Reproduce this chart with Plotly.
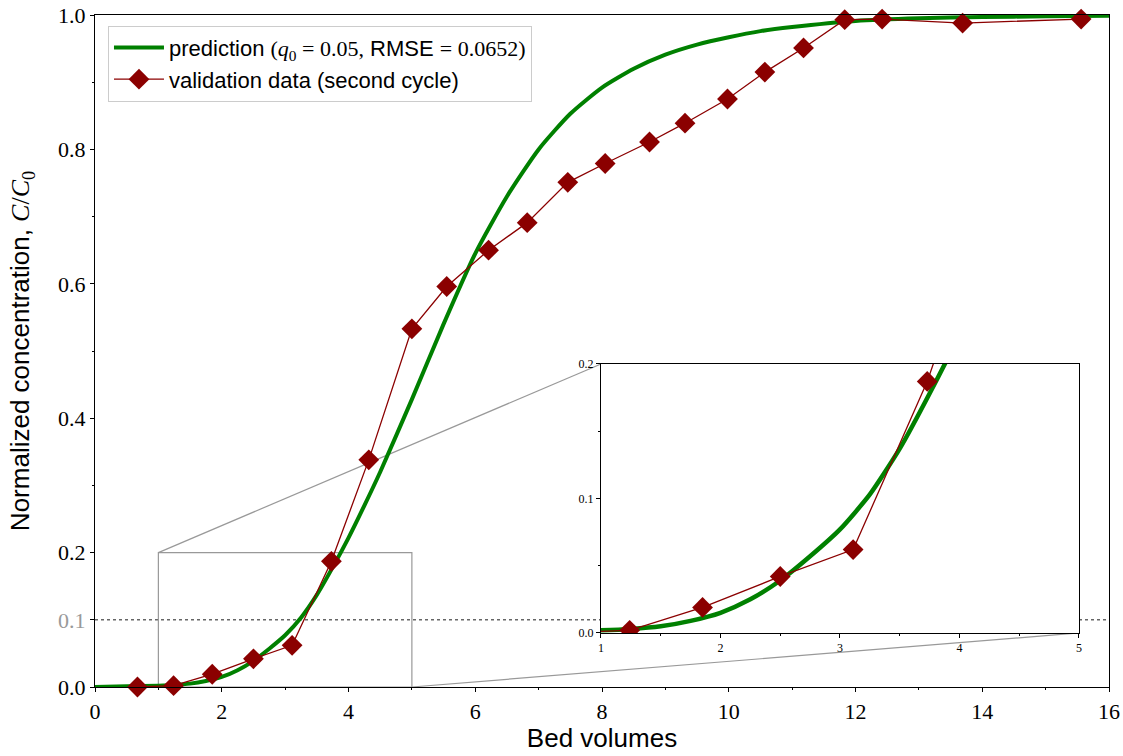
import plotly.graph_objects as go

# Validation data (second cycle): bed volumes vs. normalized concentration C/C0
bv_data = [0.67, 1.24, 1.85, 2.50, 3.11, 3.73, 4.32, 5.00, 5.55, 6.21, 6.82,
           7.46, 8.05, 8.75, 9.31, 9.98, 10.57, 11.18, 11.83, 12.42, 13.69, 15.56]
c_data = [0.000, 0.002, 0.019, 0.042, 0.062, 0.187, 0.338, 0.533, 0.596, 0.650, 0.691,
          0.751, 0.779, 0.811, 0.839, 0.875, 0.915, 0.951, 0.993, 0.994, 0.988, 0.994]

# Model prediction (q0 = 0.05)
bv_pred = [0.0, 0.5, 1.0, 1.25, 1.5, 1.75, 2.0, 2.25, 2.5, 2.75, 3.0, 3.25, 3.5, 3.75,
           4.0, 4.25, 4.5, 5.0, 5.5, 6.0, 6.5, 7.0, 7.5, 8.0, 8.5, 9.0, 9.5, 10.0,
           10.5, 11.0, 12.0, 13.0, 14.0, 15.0, 16.0]
c_pred = [0.000, 0.001, 0.002, 0.003, 0.005, 0.009, 0.015, 0.025, 0.039, 0.057, 0.077,
          0.103, 0.137, 0.178, 0.222, 0.270, 0.320, 0.428, 0.540, 0.645, 0.730, 0.800,
          0.853, 0.892, 0.920, 0.941, 0.956, 0.967, 0.976, 0.982, 0.991, 0.995, 0.997,
          0.998, 0.999]

# Axis ticks
x_ticks = [0, 2, 4, 6, 8, 10, 12, 14, 16]
y_ticks = [0.0, 0.1, 0.2, 0.4, 0.6, 0.8, 1.0]
y_ticktext = ["0.0", '<span style="color:#999999">0.1</span>', "0.2", "0.4", "0.6", "0.8", "1.0"]
inset_x_ticks = [1, 2, 3, 4, 5]
inset_y_ticks = [0.0, 0.1, 0.2]
inset_y_ticktext = ["0.0", "0.1", "0.2"]

# Ranges
x_range = [0, 16]
y_range = [0, 1]
zoom_x = [1, 5]
zoom_y = [0, 0.2]
threshold = 0.1

SERIF = "Liberation Serif"
SANS = "Liberation Sans"
GREEN = "#008000"
RED = "#8b0000"
GRAY = "#999999"

inset_dom_x = [0.499, 0.9704]
inset_dom_y = [0.0804, 0.4807]

fig = go.Figure()

pred_name = ('prediction <span style="font-family:%s">(<i>q</i><sub>0</sub> = 0.05,</span> '
             'RMSE <span style="font-family:%s">= 0.0652)</span>') % (SERIF, SERIF)

# Main panel
fig.add_trace(go.Scatter(
    x=bv_pred, y=c_pred, mode="lines", name=pred_name,
    line=dict(color=GREEN, width=4, shape="spline", smoothing=0.6),
    xaxis="x", yaxis="y"))
fig.add_trace(go.Scatter(
    x=bv_data, y=c_data, mode="lines+markers", name="validation data (second cycle)",
    line=dict(color=RED, width=1.3),
    marker=dict(symbol="diamond", size=16, color=RED),
    cliponaxis=False, xaxis="x", yaxis="y"))

# Inset panel
fig.add_trace(go.Scatter(
    x=bv_pred, y=c_pred, mode="lines", showlegend=False,
    line=dict(color=GREEN, width=4.5, shape="spline", smoothing=0.6),
    xaxis="x2", yaxis="y2"))
fig.add_trace(go.Scatter(
    x=bv_data, y=c_data, mode="lines+markers", showlegend=False,
    line=dict(color=RED, width=1.3),
    marker=dict(symbol="diamond", size=16, color=RED),
    xaxis="x2", yaxis="y2"))


def to_paper(v, rng):
    return (v - rng[0]) / (rng[1] - rng[0])


shapes = [
    # threshold line in main panel
    dict(type="line", xref="x", yref="y", x0=x_range[0], x1=x_range[1],
         y0=threshold, y1=threshold, layer="below",
         line=dict(color="#666666", width=1.6, dash="dot")),
    # zoomed region outline
    dict(type="rect", xref="x", yref="y", x0=zoom_x[0], x1=zoom_x[1],
         y0=zoom_y[0], y1=zoom_y[1], layer="below",
         line=dict(color=GRAY, width=1.2)),
    # inset background
    dict(type="rect", xref="x2 domain", yref="y2 domain", x0=0, x1=1, y0=0, y1=1,
         layer="below", fillcolor="white", line=dict(width=0)),
    # threshold line in inset
    dict(type="line", xref="x2 domain", yref="y2", x0=0, x1=1,
         y0=threshold, y1=threshold, layer="below",
         line=dict(color="#666666", width=1.6, dash="dot")),
    # connectors between zoomed region and inset
    dict(type="line", xref="paper", yref="paper",
         x0=to_paper(zoom_x[0], x_range), y0=to_paper(zoom_y[1], y_range),
         x1=inset_dom_x[0], y1=inset_dom_y[1], layer="below",
         line=dict(color=GRAY, width=1.2)),
    dict(type="line", xref="paper", yref="paper",
         x0=to_paper(zoom_x[1], x_range), y0=to_paper(zoom_y[0], y_range),
         x1=inset_dom_x[1], y1=inset_dom_y[0], layer="below",
         line=dict(color=GRAY, width=1.2)),
]

axis_common = dict(showgrid=False, zeroline=False, showline=True, linecolor="black",
                   linewidth=1.2, mirror=True, ticks="outside", tickcolor="black",
                   tickwidth=1, ticklen=4, automargin=False)

fig.update_layout(
    width=1123, height=756,
    margin=dict(l=95, r=14, t=15, b=69),
    plot_bgcolor="white", paper_bgcolor="white",
    font=dict(family=SANS, color="black"),
    shapes=shapes,
    showlegend=True,
    legend=dict(x=0.0128, y=0.984, xanchor="left", yanchor="top",
                bgcolor="rgba(255,255,255,0.8)", bordercolor="#cccccc", borderwidth=1,
                font=dict(family=SANS, size=22, color="black"),
                itemwidth=50, tracegroupgap=2),
    xaxis=dict(**axis_common, domain=[0, 1], range=x_range, anchor="y",
               tickvals=x_ticks, ticktext=[str(v) for v in x_ticks],
               tickfont=dict(family=SERIF, size=22),
               minor=dict(dtick=1, tick0=0, ticks="outside", ticklen=2, tickcolor="black"),
               title=dict(text="Bed volumes", font=dict(family=SANS, size=26), standoff=4)),
    yaxis=dict(**axis_common, domain=[0, 1], range=y_range, anchor="x",
               tickvals=y_ticks, ticktext=y_ticktext,
               tickfont=dict(family=SERIF, size=22),
               minor=dict(dtick=0.1, tick0=0, ticks="outside", ticklen=2, tickcolor="black"),
               title=dict(text=('Normalized concentration, <span style="font-family:%s">'
                                '<i>C</i>/<i>C</i><sub>0</sub></span>') % SERIF,
                          font=dict(family=SANS, size=26), standoff=20)),
    xaxis2=dict(**axis_common, domain=inset_dom_x, range=zoom_x, anchor="y2",
                tickvals=inset_x_ticks, ticktext=[str(v) for v in inset_x_ticks],
                tickfont=dict(family=SERIF, size=12),
                minor=dict(dtick=0.5, tick0=0, ticks="outside", ticklen=2, tickcolor="black")),
    yaxis2=dict(**axis_common, domain=inset_dom_y, range=zoom_y, anchor="x2",
                tickvals=inset_y_ticks, ticktext=inset_y_ticktext,
                tickfont=dict(family=SERIF, size=12),
                minor=dict(dtick=0.05, tick0=0, ticks="outside", ticklen=2, tickcolor="black")),
)

fig.write_html("out.html")
